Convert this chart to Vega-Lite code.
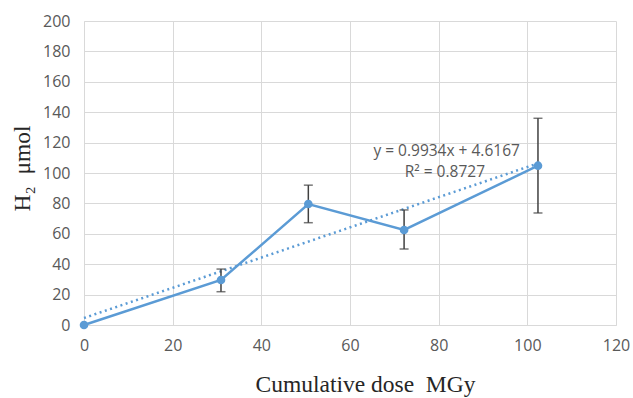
{
  "$schema": "https://vega.github.io/schema/vega-lite/v6.json",
  "width": 532,
  "height": 304,
  "autosize": {"type": "none"},
  "padding": {"left": 84, "top": 21, "right": 17, "bottom": 73},
  "background": "white",
  "config": {
    "view": {"stroke": null},
    "axis": {
      "gridColor": "#d9d9d9",
      "gridWidth": 1,
      "domainColor": "#d9d9d9",
      "domainWidth": 1,
      "ticks": false,
      "labelOverlap": false,
      "labelFlush": false,
      "labelFont": "Open Sans",
      "labelFontSize": 16,
      "labelColor": "#595959",
      "titleFont": "Liberation Serif",
      "titleFontSize": 23.5,
      "titleFontWeight": "normal",
      "titleColor": "#262626"
    },
    "axisX": {"tickCount": 6, "labelPadding": 12, "titleX": 281, "titleY": 66, "titleBaseline": "alphabetic", "titleAnchor": "middle", "titleAlign": "center"},
    "axisY": {"tickCount": 10, "labelPadding": 14, "titleX": -62, "titleY": 147, "titleBaseline": "middle", "titleAlign": "center", "titleAngle": -90}
  },
  "datasets": {
    "pts": [
      {"dose": 0, "h2": 0, "lo": null, "hi": null},
      {"dose": 30.9, "h2": 29.6, "lo": 21.9, "hi": 36.8},
      {"dose": 50.6, "h2": 79.6, "lo": 67.3, "hi": 92},
      {"dose": 72.2, "h2": 62.5, "lo": 50, "hi": 75.7},
      {"dose": 102.4, "h2": 104.8, "lo": 73.7, "hi": 136}
    ],
    "trend": [
      {"dose": 0, "h2": 4.6167},
      {"dose": 102.4, "h2": 106.34}
    ]
  },
  "layer": [
    {
      "data": {"name": "trend"},
      "mark": {"type": "line", "color": "#5b9bd5", "strokeWidth": 2.5, "strokeDash": [2, 3.5]},
      "encoding": {
        "x": {"field": "dose", "type": "quantitative", "title": "Cumulative dose\u00a0\u00a0MGy",
          "scale": {"domain": [0, 120], "nice": false}},
        "y": {"field": "h2", "type": "quantitative", "title": "H₂\u00a0\u00a0μmol",
          "scale": {"domain": [0, 200], "nice": false}}
      }
    },
    {
      "data": {"name": "pts"},
      "mark": {"type": "line", "color": "#5b9bd5", "strokeWidth": 2.5},
      "encoding": {
        "x": {"field": "dose", "type": "quantitative", "title": "Cumulative dose\u00a0\u00a0MGy"},
        "y": {"field": "h2", "type": "quantitative", "title": "H₂\u00a0\u00a0μmol"}
      }
    },
    {
      "data": {"name": "pts"},
      "transform": [{"filter": "datum.lo != null"}],
      "mark": {"type": "errorbar", "color": "#404040", "thickness": 1.5, "ticks": {"size": 9, "color": "#404040", "thickness": 1.5}},
      "encoding": {
        "x": {"field": "dose", "type": "quantitative", "title": "Cumulative dose\u00a0\u00a0MGy"},
        "y": {"field": "lo", "type": "quantitative", "title": "H₂\u00a0\u00a0μmol"},
        "y2": {"field": "hi"}
      }
    },
    {
      "data": {"name": "pts"},
      "mark": {"type": "point", "filled": true, "opacity": 1, "color": "#5b9bd5", "size": 75},
      "encoding": {
        "x": {"field": "dose", "type": "quantitative", "title": "Cumulative dose\u00a0\u00a0MGy"},
        "y": {"field": "h2", "type": "quantitative", "title": "H₂\u00a0\u00a0μmol"}
      }
    },
    {
      "data": {"values": [{"t": "y = 0.9934x + 4.6167"}]},
      "mark": {"type": "text", "font": "Open Sans", "fontSize": 15.5, "color": "#595959", "align": "center", "baseline": "middle"},
      "encoding": {
        "x": {"datum": 81.8, "type": "quantitative", "title": "Cumulative dose\u00a0\u00a0MGy"},
        "y": {"datum": 114.2, "type": "quantitative", "title": "H₂\u00a0\u00a0μmol"},
        "text": {"field": "t"}
      }
    },
    {
      "data": {"values": [{"t": "R² = 0.8727"}]},
      "mark": {"type": "text", "font": "Open Sans", "fontSize": 15.5, "color": "#595959", "align": "center", "baseline": "middle"},
      "encoding": {
        "x": {"datum": 81.4, "type": "quantitative", "title": "Cumulative dose\u00a0\u00a0MGy"},
        "y": {"datum": 100.6, "type": "quantitative", "title": "H₂\u00a0\u00a0μmol"},
        "text": {"field": "t"}
      }
    }
  ]
}
